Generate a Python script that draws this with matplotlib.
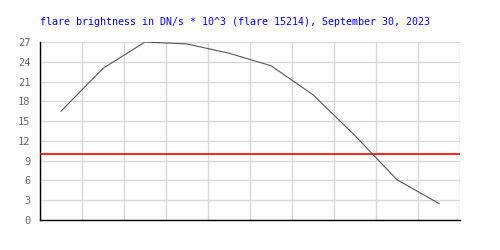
import matplotlib
matplotlib.use("Agg")
import matplotlib.pyplot as plt
import numpy as np

title = "flare brightness in DN/s * 10^3 (flare 15214), September 30, 2023"
brightness = [16.5, 23.0, 27.0, 26.7, 25.3, 23.4, 19.0, 12.8, 6.1, 2.5]
threshold = 10.0
y_ticks = [0, 3, 6, 9, 12, 15, 18, 21, 24, 27]

fig = plt.figure(figsize=(5, 2.5), dpi=100)
ax = fig.add_axes([0.08, 0.12, 0.84, 0.712])

x = np.arange(len(brightness)) + 0.5
ax.set_xlim(0, len(brightness))
ax.set_ylim(0, 27)
ax.set_xticks(np.arange(0, len(brightness) + 1))
ax.set_yticks(y_ticks)
ax.set_xticklabels([])
ax.grid(True, color="#d8d8d8", linewidth=1.0)
ax.set_axisbelow(True)

ax.axhline(threshold, color="#ff0000", linewidth=1.2, zorder=3)
ax.plot(x, brightness, color="#555555", linewidth=0.8, zorder=4)

for s in ["top", "right"]:
    ax.spines[s].set_visible(False)
for s in ["left", "bottom"]:
    ax.spines[s].set_color("black")
    ax.spines[s].set_linewidth(1.0)

ax.tick_params(axis="both", length=0, pad=7, labelsize=7.5, labelcolor="#666666")
for lbl in ax.get_yticklabels():
    lbl.set_family("DejaVu Sans Mono")

ax.set_title(title, loc="left", fontsize=7.2, family="DejaVu Sans Mono",
             color="#0000ff", pad=12)

fig.savefig("out.png", dpi=100)
